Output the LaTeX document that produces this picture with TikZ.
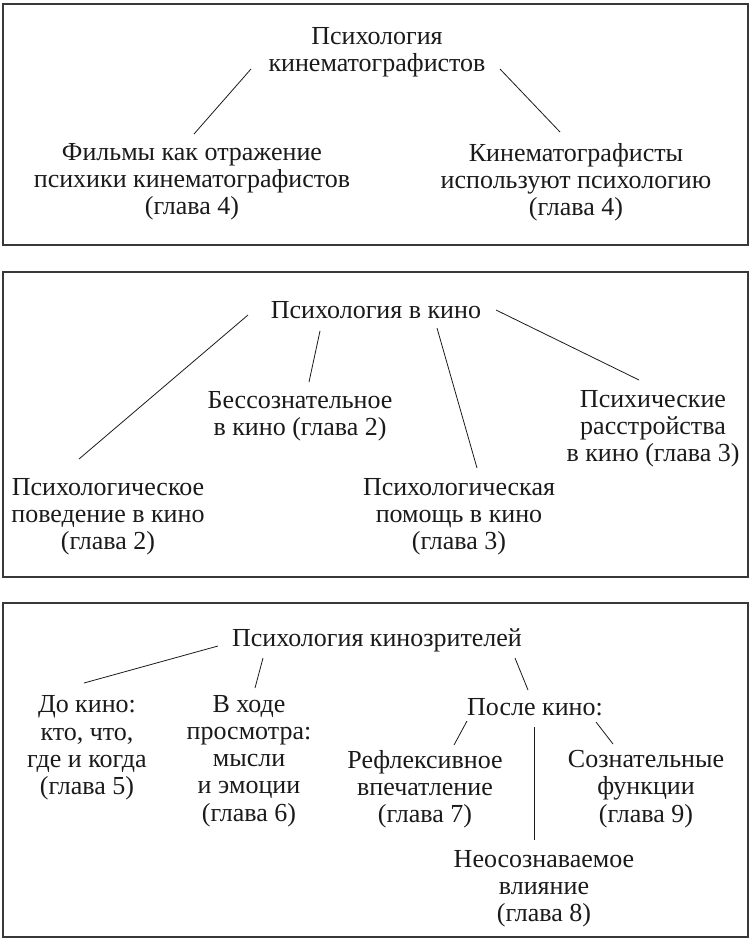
\documentclass[tikz,border=0pt]{standalone}
\usepackage{fontspec}
\setmainfont{Liberation Serif}
\usetikzlibrary{positioning}
\definecolor{ink}{HTML}{1A1A1A}
\definecolor{frame}{HTML}{383838}

\begin{document}
\begin{tikzpicture}[x=1pt, y=-1pt,
  every node/.style={font=\fontsize{26}{27.2}\selectfont, align=center, inner sep=0pt, text=ink, yshift=-2pt},
  panel/.style={draw=frame, line width=1.3pt},
  link/.style={ink, line width=0.8pt}]
  \useasboundingbox (0,0) rectangle (751,940);

  % makers
  \draw[panel] (3,4) rectangle (748,245);
  \node (makers) at (377,50) {Психология\\кинематографистов};
  \node (reflect) at (192,180) {Фильмы как отражение\\психики кинематографистов\\(глава 4)};
  \node (usepsy) at (576,180) {Кинематографисты\\используют психологию\\(глава 4)};
  \coordinate (m1) at (251,67); \coordinate (r1) at (194,132);
  \coordinate (m2) at (500,67); \coordinate (u1) at (560,130);
  \draw[link] (m1) -- (r1);
  \draw[link] (m2) -- (u1);

  % cinema
  \draw[panel] (3,272) rectangle (748,577);
  \node (cinema) at (376,308) {Психология в кино};
  \node (uncons) at (300,414) {Бессознательное\\в кино (глава 2)};
  \node (disord) at (653,427) {Психические\\расстройства\\в кино (глава 3)};
  \node (behav) at (108,515) {Психологическое\\поведение в кино\\(глава 2)};
  \node (help) at (459,515) {Психологическая\\помощь в кино\\(глава 3)};
  \coordinate (c1) at (248,313); \coordinate (b1) at (79,457);
  \coordinate (c2) at (320,329); \coordinate (n1) at (309,380);
  \coordinate (c3) at (437,326); \coordinate (h1) at (477,466);
  \coordinate (c4) at (496,308); \coordinate (d1) at (639,378);
  \draw[link] (c1) -- (b1);
  \draw[link] (c2) -- (n1);
  \draw[link] (c3) -- (h1);
  \draw[link] (c4) -- (d1);

  % viewers
  \draw[panel] (3,603) rectangle (748,937);
  \node (viewers) at (377,638) {Психология кинозрителей};
  \node (before) at (87,746) {До кино:\\кто, что,\\где и когда\\(глава 5)};
  \node (during) at (249,759) {В ходе\\просмотра:\\мысли\\и эмоции\\(глава 6)};
  \node (after) at (535,705) {После кино:};
  \node (reflex) at (425,787) {Рефлексивное\\впечатление\\(глава 7)};
  \node (consc) at (646,787) {Сознательные\\функции\\(глава 9)};
  \node (influ) at (544,887) {Неосознаваемое\\влияние\\(глава 8)};
  \coordinate (v1) at (218,644); \coordinate (f1) at (84,681);
  \coordinate (v2) at (263,656); \coordinate (g1) at (255,686);
  \coordinate (v3) at (515,656); \coordinate (a1) at (528,688);
  \coordinate (a2) at (467,719); \coordinate (x1) at (454,743);
  \coordinate (a3) at (534,725); \coordinate (i1) at (534,838);
  \coordinate (a4) at (596,720); \coordinate (s1) at (613,742);
  \draw[link] (v1) -- (f1);
  \draw[link] (v2) -- (g1);
  \draw[link] (v3) -- (a1);
  \draw[link] (a2) -- (x1);
  \draw[link] (a3) -- (i1);
  \draw[link] (a4) -- (s1);
\end{tikzpicture}
\end{document}
